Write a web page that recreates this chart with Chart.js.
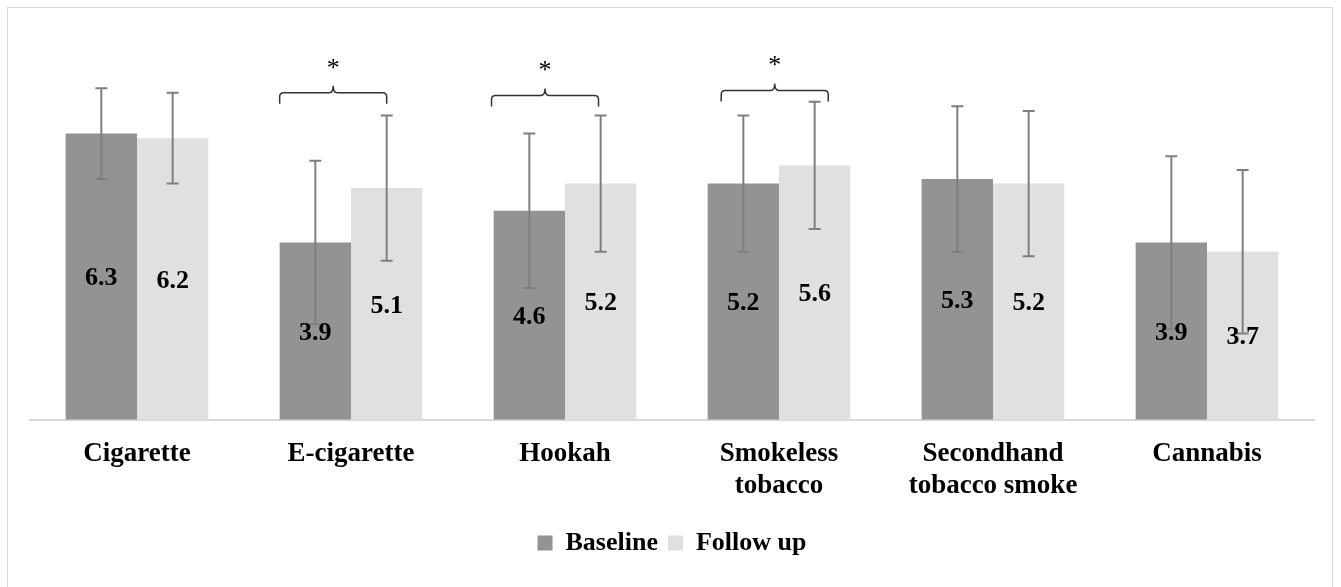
<!DOCTYPE html>
<html>
<head>
<meta charset="utf-8">
<script src="https://cdn.jsdelivr.net/npm/chart.js@4/dist/chart.umd.min.js"></script>
<style>
  html, body { margin: 0; padding: 0; background: #fff; }
  #wrap { width: 1341px; height: 587px; }
</style>
</head>
<body>
<div id="wrap"><canvas id="chart"></canvas></div>
<script>
const categories = ['Cigarette', 'E-cigarette', 'Hookah', ['Smokeless', 'tobacco'], ['Secondhand', 'tobacco smoke'], 'Cannabis'];
const baseline = [6.3, 3.9, 4.6, 5.2, 5.3, 3.9];
const followUp = [6.2, 5.1, 5.2, 5.6, 5.2, 3.7];
const baselineErr = [1.0, 1.8, 1.7, 1.5, 1.6, 1.9];
const followUpErr = [1.0, 1.6, 1.5, 1.4, 1.6, 1.8];
// significant pairs: category index + height of the brace (in value units)
const sigIndex = [1, 2, 3];
const sigLevel = [7.2, 7.14, 7.25];
const sigShift = [0, -0.03, 0.19];

const serif = '"Liberation Serif", "Times New Roman", serif';

const frame = {
  id: 'frame',
  beforeDraw(chart) {
    const c = chart.ctx;
    c.save();
    c.strokeStyle = '#d9d9d9';
    c.lineWidth = 1;
    c.strokeRect(7.5, 7.5, 1325, 600);
    c.restore();
  }
};

const extras = {
  id: 'extras',
  afterDatasetsDraw(chart) {
    const c = chart.ctx;
    const y = chart.scales.y;
    const errs = [baselineErr, followUpErr];
    c.save();
    // error bars
    c.strokeStyle = '#7f7f7f';
    c.lineWidth = 2;
    chart.data.datasets.forEach((ds, i) => {
      chart.getDatasetMeta(i).data.forEach((bar, j) => {
        const v = ds.data[j];
        const top = y.getPixelForValue(v + errs[i][j]);
        const bot = y.getPixelForValue(v - errs[i][j]);
        c.beginPath();
        c.moveTo(bar.x, top); c.lineTo(bar.x, bot);
        c.moveTo(bar.x - 6, top); c.lineTo(bar.x + 6, top);
        c.moveTo(bar.x - 6, bot); c.lineTo(bar.x + 6, bot);
        c.stroke();
      });
    });
    // value labels
    c.fillStyle = '#000';
    c.font = 'bold 26px ' + serif;
    c.textAlign = 'center';
    c.textBaseline = 'middle';
    chart.data.datasets.forEach((ds, i) => {
      chart.getDatasetMeta(i).data.forEach((bar, j) => {
        c.fillText(ds.data[j].toFixed(1), bar.x, (bar.y + bar.base) / 2 + 2);
      });
    });
    // braces with asterisks
    c.strokeStyle = '#333';
    c.lineWidth = 1.5;
    sigIndex.forEach((k, n) => {
      const b0 = chart.getDatasetMeta(0).data[k];
      const b1 = chart.getDatasetMeta(1).data[k];
      const w = b0.width;
      const x1 = b0.x - w / 2 + sigShift[n] * w;
      const x2 = b1.x + sigShift[n] * w;
      const xm = (x1 + x2) / 2;
      const yh = y.getPixelForValue(sigLevel[n]);
      c.beginPath();
      c.moveTo(x1, yh + 11);
      c.lineTo(x1, yh + 4);
      c.quadraticCurveTo(x1, yh, x1 + 4, yh);
      c.lineTo(xm - 4, yh);
      c.quadraticCurveTo(xm, yh, xm, yh - 7);
      c.quadraticCurveTo(xm, yh, xm + 4, yh);
      c.lineTo(x2 - 4, yh);
      c.quadraticCurveTo(x2, yh, x2, yh + 4);
      c.lineTo(x2, yh + 11);
      c.stroke();
      c.font = '26px ' + serif;
      c.fillText('*', xm, yh - 24);
    });
    c.restore();
  }
};

new Chart(document.getElementById('chart'), {
  type: 'bar',
  data: {
    labels: categories,
    datasets: [
      { label: 'Baseline', data: baseline, backgroundColor: '#939393', categoryPercentage: 2 / 3, barPercentage: 1 },
      { label: 'Follow up', data: followUp, backgroundColor: '#e0e0e0', categoryPercentage: 2 / 3, barPercentage: 1 }
    ]
  },
  options: {
    responsive: true,
    maintainAspectRatio: false,
    animation: false,
    layout: { padding: { left: 30, right: 27, top: 11, bottom: 21 } },
    plugins: {
      tooltip: { enabled: false },
      legend: {
        position: 'bottom',
        labels: {
          boxWidth: 15, boxHeight: 15, padding: 10, color: '#000',
          font: { family: serif, size: 26, weight: 'bold' }
        }
      }
    },
    scales: {
      y: { display: false, min: 0, max: 9 },
      x: {
        grid: { display: false, drawTicks: false },
        border: { color: '#d9d9d9', width: 2 },
        ticks: {
          padding: 18, color: '#000', maxRotation: 0, autoSkip: false,
          font: { family: serif, size: 27, weight: 'bold', lineHeight: 1.19 }
        }
      }
    }
  },
  plugins: [frame, extras]
});
</script>
</body>
</html>
